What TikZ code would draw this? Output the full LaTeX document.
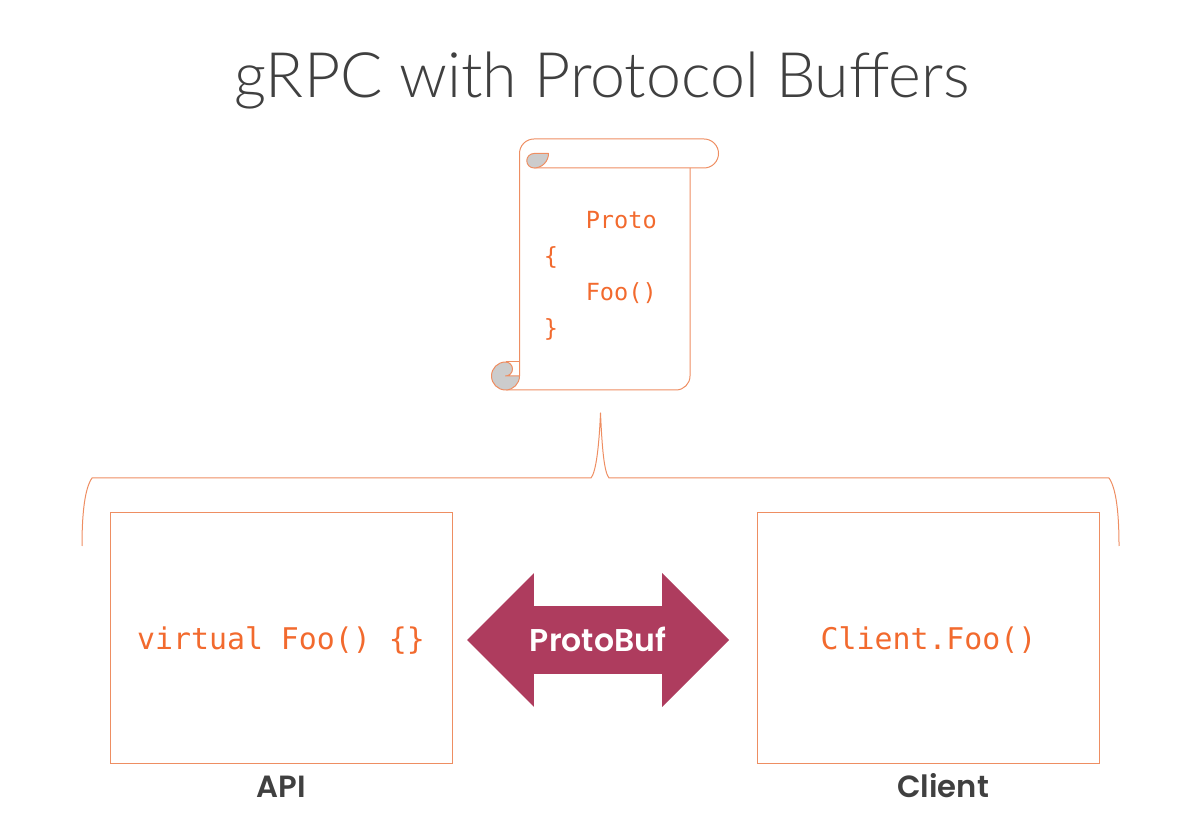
\documentclass[tikz,border=0pt]{standalone}
\usepackage{fontspec}
\usetikzlibrary{positioning,shapes.arrows}
\setmainfont{Poppins}
\setmonofont{DejaVu Sans Mono}
\newfontfamily\titlefont{Lato Light}
\newfontfamily\labelfont{Poppins SemiBold}
\definecolor{codeorange}{HTML}{F26A2E}
\definecolor{lineorange}{HTML}{EE8E62}
\definecolor{bufred}{HTML}{AE3C5E}
\definecolor{labelgrey}{HTML}{404040}
\definecolor{curlgrey}{HTML}{CCCCCC}

\begin{document}
\begin{tikzpicture}[
    x=0.75pt, y=0.75pt,
    codebox/.style={draw=lineorange, line width=0.75pt, minimum width=256.5pt, minimum height=187.5pt, inner sep=0pt, text=codeorange, text height=21.5pt, text depth=5pt, font=\ttfamily\fontsize{22.4}{26}\selectfont},
    boxlabel/.style={text=labelgrey, inner sep=0pt, text height=17pt, text depth=0pt, font=\labelfont\fontsize{23}{28}\selectfont},
    scroll/.style={draw=lineorange, line width=0.75pt, line join=round},
    curl/.style={scroll, fill=curlgrey},
    bufarrow/.style={shape=double arrow, fill=bufred, text=white, inner sep=0pt, double arrow tip angle=90, double arrow head extend=24.75pt, minimum height=196.5pt, text height=34pt, text depth=16.25pt, font=\labelfont\fontsize{23.6}{28}\selectfont}
]
\useasboundingbox (0,0) rectangle (1177,832);
\node[text=labelgrey, font=\titlefont\fontsize{47}{56}\selectfont, anchor=base] (title) at (602,734) {gRPC with Protocol Buffers};
% scroll
\draw[scroll] (534,664) -- (704,664) arc[start angle=-90, end angle=90, radius=14.5] -- (534,693) arc[start angle=90, end angle=180, radius=14.5] -- (519.5,456);
\draw[scroll] (690,664) -- (690,456) arc[start angle=0, end angle=-90, radius=14] -- (506,442);
\draw[scroll] (506,470) -- (519.5,470);
\draw[curl] (548.5,678.5) -- (534,678.5) arc[start angle=90, end angle=270, radius=7.25] arc[start angle=-90, end angle=0, radius=14.5] -- cycle;
\draw[curl] (519.5,456) arc[start angle=0, end angle=-270, radius=14] arc[start angle=90, end angle=-90, radius=7] -- cycle;
\node[text=codeorange, align=left, inner sep=0pt, anchor=base west, font=\ttfamily\fontsize{17.7}{27.2}\selectfont] (protofile) at (543.5,495) {\hspace*{31.5pt}Proto\\\{\\\hspace*{31.5pt}Foo()\\\}};
% brace
\coordinate (braceleft) at (82,286);
\coordinate (bracetip) at (600.5,419);
\coordinate (braceright) at (1119,286);
\draw[scroll] (braceleft) .. controls (82,320) and (85,344) .. (92,354) -- (591,354) .. controls (596,360) and (599,385) .. (bracetip) .. controls (602,385) and (604,360) .. (609,354) -- (1109,354) .. controls (1116,344) and (1119,320) .. (braceright);
% boxes
\node[codebox] (apibox) at (281,194) {virtual Foo() \{\}};
\node[codebox] (clientbox) at (928.5,194) {Client.Foo()};
\node[bufarrow] (protobuf) at (598,192) {ProtoBuf};
\node[boxlabel, below=8pt of apibox] (apilabel) {API};
\node[boxlabel, below=8pt of clientbox, xshift=11pt] (clientlabel) {Client};
\end{tikzpicture}
\end{document}
